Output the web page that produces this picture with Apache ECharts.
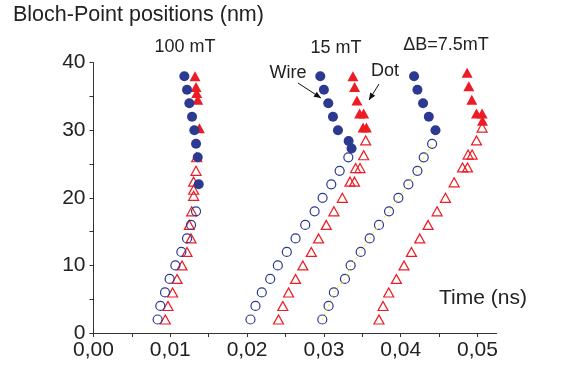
<!DOCTYPE html>
<html>
<head>
<meta charset="utf-8">
<script src="https://cdn.jsdelivr.net/npm/echarts@6/dist/echarts.min.js"></script>
<style>
  html, body { margin: 0; padding: 0; background: #fff; }
  #chart { width: 562px; height: 368px; }
</style>
</head>
<body>
<div id="chart"></div>
<script>
// tick values / labels
const xTicks = [0, 0.005, 0.01, 0.015, 0.02, 0.025, 0.03, 0.035, 0.04, 0.045, 0.05]
const xLabels = [0, 0.01, 0.02, 0.03, 0.04, 0.05]
const yTicks = [0, 5, 10, 15, 20, 25, 30, 35, 40]
const yLabels = [0, 10, 20, 30, 40]

// 100 mT
const wireOpen100 = [[0.00835, 2], [0.0087, 4], [0.00931, 6], [0.00991, 8], [0.01066, 10], [0.01144, 12], [0.01218, 14], [0.0127, 16], [0.01335, 18]]
const wireFilled100 = [[0.01183, 38], [0.01218, 36], [0.01248, 34], [0.01283, 32], [0.01313, 30], [0.01335, 28], [0.01357, 26], [0.0137, 22]]
const dotOpen100 = [[0.00935, 2], [0.0097, 4], [0.0103, 6], [0.01088, 8], [0.01153, 10], [0.01218, 12], [0.0127, 14], [0.01248, 16], [0.01279, 18], [0.01304, 20.3], [0.01304, 21.2], [0.01304, 22.4], [0.01335, 24], [0.01344, 26]]
const dotFilled100 = [[0.01322, 38], [0.01335, 36.4], [0.01344, 35.5], [0.01357, 34.5], [0.01379, 30.3]]

// 15 mT
const wireOpen15 = [[0.02044, 2], [0.02109, 4], [0.02191, 6], [0.02301, 8], [0.024, 10], [0.02517, 12], [0.02631, 14], [0.02757, 16], [0.02879, 18], [0.02983, 20], [0.03096, 22], [0.03205, 24], [0.03318, 26]]
const wireFilled15 = [[0.02953, 38], [0.03, 36], [0.03057, 34], [0.03118, 32], [0.03183, 30], [0.03322, 28.4], [0.0336, 27.3]]
const dotOpen15 = [[0.02409, 2], [0.02465, 4], [0.0254, 6], [0.02631, 8], [0.02726, 10], [0.02836, 12], [0.02931, 14], [0.03031, 16], [0.0313, 18], [0.0324, 20], [0.0334, 22.4], [0.03399, 22.4], [0.03413, 24.4], [0.0347, 24.4], [0.03518, 26.3], [0.03544, 28.5]]
const dotFilled15 = [[0.03378, 38], [0.034, 36.4], [0.0343, 34.4], [0.03465, 32.5], [0.03518, 32.5], [0.0351, 30.4], [0.03553, 30.4]]

// dB = 7.5 mT
const wireOpen75 = [[0.02979, 2], [0.03061, 4], [0.0313, 6], [0.03274, 8], [0.03348, 10], [0.03479, 12], [0.03596, 14], [0.03717, 16], [0.03848, 18], [0.0397, 20], [0.041, 22], [0.04218, 24], [0.043, 26], [0.04409, 28]]
const wireFilled75 = [[0.04174, 38], [0.04218, 36], [0.04291, 34], [0.04366, 32], [0.04453, 30]]
const dotOpen75 = [[0.03717, 2], [0.0377, 4], [0.03844, 6], [0.03944, 8], [0.04043, 10], [0.0414, 12], [0.04248, 14], [0.04357, 16], [0.04474, 18], [0.04583, 20], [0.04696, 22.3], [0.04805, 24.5], [0.0487, 24.5], [0.04878, 26.4], [0.0493, 26.4], [0.04987, 28.5], [0.0506, 30.4]]
const dotFilled75 = [[0.04865, 38.5], [0.04887, 36.5], [0.04926, 34.5], [0.04987, 32.5], [0.0506, 32.5], [0.05065, 31.4]]

const blue = '#2b3990'
const red = '#ed1c24'
const axisColor = '#333'
const font = 'Liberation Sans, Arial, sans-serif'

const chart = echarts.init(document.getElementById('chart'))

const arrow = (x1, y1, x2, y2) => {
  const a = Math.atan2(y2 - y1, x2 - x1)
  const L = 7, W = 3
  return [
    { type: 'line', shape: { x1, y1, x2, y2 }, style: { stroke: '#111', lineWidth: 1 } },
    {
      type: 'polygon',
      shape: {
        points: [
          [x2, y2],
          [x2 - L * Math.cos(a) + W * Math.sin(a), y2 - L * Math.sin(a) - W * Math.cos(a)],
          [x2 - L * Math.cos(a) - W * Math.sin(a), y2 - L * Math.sin(a) + W * Math.cos(a)],
        ],
      },
      style: { fill: '#111' },
    },
  ]
}

const txt = (text, x, y, size, align) => ({
  type: 'text',
  x, y,
  style: { text, fontSize: size, fontFamily: font, fill: '#222', align: align || 'center', verticalAlign: 'middle' },
})

chart.setOption({
  backgroundColor: '#fff',
  animation: false,
  grid: { left: 93.5, right: 65.3, top: 62.7, bottom: 35 },
  xAxis: {
    type: 'value',
    min: 0,
    max: 0.0525,
    axisLine: { lineStyle: { color: axisColor, width: 1 } },
    axisTick: { show: true, length: 4, customValues: xTicks, lineStyle: { color: axisColor } },
    splitLine: { show: false },
    axisLabel: {
      customValues: xLabels,
      margin: 7,
      fontSize: 21,
      fontFamily: font,
      color: '#222',
      formatter: (v) => v.toFixed(2).replace('.', ','),
    },
  },
  yAxis: {
    type: 'value',
    min: 0,
    max: 40,
    axisLine: { show: true, lineStyle: { color: axisColor, width: 1 } },
    axisTick: { show: true, length: 4, customValues: yTicks, lineStyle: { color: axisColor } },
    splitLine: { show: false },
    axisLabel: {
      customValues: yLabels,
      margin: 8,
      fontSize: 21,
      fontFamily: font,
      color: '#222',
    },
  },
  graphic: [
    txt('Bloch-Point positions (nm)', 13, 15, 21.5, 'left'),
    txt('100 mT', 185, 47, 18),
    txt('15 mT', 336, 48, 18),
    txt('ΔB=7.5mT', 446, 45, 18),
    txt('Wire', 288, 73, 18),
    txt('Dot', 385, 71, 18),
    txt('Time (ns)', 439, 298, 21, 'left'),
    ...arrow(298, 83, 321, 98),
    ...arrow(379, 84, 369, 100),
  ],
  series: [
    {
      type: 'scatter',
      data: [...dotOpen100, ...dotOpen15, ...dotOpen75],
      symbol: 'triangle',
      symbolSize: [10, 9],
      itemStyle: { color: 'rgba(0,0,0,0)', borderColor: red, borderWidth: 1.2, opacity: 1 },
      z: 2,
    },
    {
      type: 'scatter',
      data: [...wireOpen100, ...wireOpen15, ...wireOpen75],
      symbol: 'circle',
      symbolSize: 9,
      itemStyle: { color: 'rgba(0,0,0,0)', borderColor: blue, borderWidth: 1.2, opacity: 1 },
      z: 3,
    },
    {
      type: 'line',
      data: wireOpen75,
      symbol: 'none',
      lineStyle: { color: '#f5e400', width: 1, type: [2, 3] },
      z: 4,
    },
    {
      type: 'scatter',
      data: [...dotFilled100, ...dotFilled15, ...dotFilled75],
      symbol: 'triangle',
      symbolSize: [11, 10],
      itemStyle: { color: red, opacity: 1 },
      z: 5,
    },
    {
      type: 'scatter',
      data: [...wireFilled100, ...wireFilled15, ...wireFilled75],
      symbol: 'circle',
      symbolSize: 10,
      itemStyle: { color: blue, opacity: 1 },
      z: 6,
    },
  ],
})
</script>
</body>
</html>
